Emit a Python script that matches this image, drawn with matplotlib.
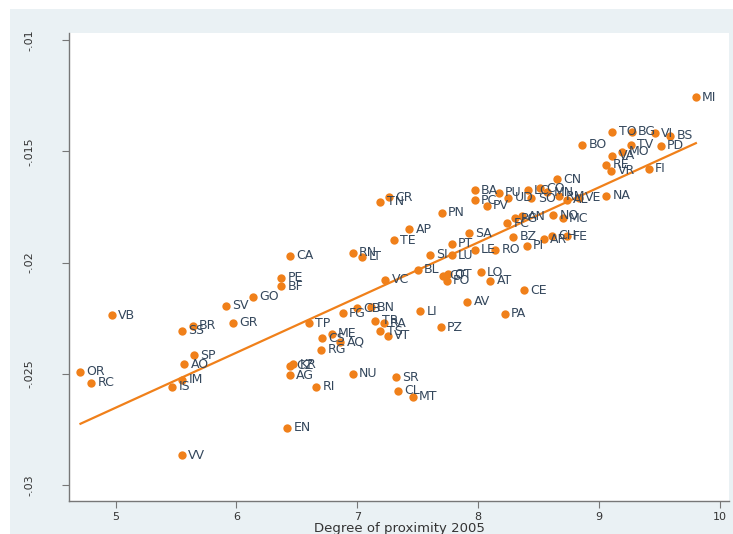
import numpy as np
import matplotlib.pyplot as plt
from matplotlib.patches import Rectangle

# province codes, degree of proximity (2005) and growth measure
provinces = ['MI', 'TO', 'BG', 'VI', 'BS', 'BO', 'TV', 'PD', 'MO', 'VA',
             'RE', 'VR', 'FI', 'CN', 'BA', 'PC', 'PV', 'PU', 'UD', 'LC',
             'SO', 'CO', 'MN', 'RM', 'AL', 'VE', 'NA', 'FC', 'PG', 'AN',
             'NO', 'MC', 'BZ', 'AR', 'CH', 'FE', 'PI', 'RO', 'LE', 'SA',
             'PT', 'SI', 'LU', 'BL', 'VC', 'CT', 'OT', 'PO', 'LO', 'AT',
             'CE', 'AV', 'PA', 'PZ', 'LI', 'PN', 'AP', 'TE', 'TN', 'CR',
             'RN', 'LT', 'CA', 'PE', 'BF', 'GO', 'SV', 'GR', 'BR', 'SS',
             'VB', 'SP', 'AO', 'OR', 'RC', 'IM', 'IS', 'VV', 'EN', 'TP',
             'FG', 'CB', 'BN', 'TR', 'RA', 'TS', 'VT', 'CS', 'ME', 'AQ',
             'RG', 'CZ', 'KR', 'AG', 'RI', 'NU', 'SR', 'CL', 'MT']

proximity = [9.80, 9.11, 9.27, 9.46, 9.59, 8.86, 9.26, 9.51, 9.19, 9.11,
             9.06, 9.10, 9.41, 8.65, 7.97, 7.97, 8.07, 8.17, 8.25, 8.41,
             8.44, 8.51, 8.57, 8.67, 8.73, 8.83, 9.06, 8.24, 8.30, 8.36,
             8.62, 8.70, 8.29, 8.54, 8.61, 8.73, 8.40, 8.14, 7.97, 7.92,
             7.78, 7.60, 7.78, 7.50, 7.23, 7.71, 7.75, 7.74, 8.02, 8.10,
             8.38, 7.91, 8.22, 7.69, 7.52, 7.70, 7.43, 7.30, 7.19, 7.26,
             6.96, 7.04, 6.44, 6.37, 6.37, 6.14, 5.91, 5.97, 5.64, 5.55,
             4.97, 5.65, 5.57, 4.71, 4.80, 5.55, 5.47, 5.55, 6.42, 6.60,
             6.88, 7.00, 7.11, 7.15, 7.22, 7.19, 7.25, 6.71, 6.79, 6.86,
             6.70, 6.44, 6.47, 6.44, 6.66, 6.96, 7.32, 7.34, 7.46]

growth = [-0.01257, -0.01412, -0.01413, -0.01418, -0.01430, -0.01470, -0.01470, -0.01474, -0.01502, -0.01519,
          -0.01560, -0.01587, -0.01579, -0.01626, -0.01676, -0.01721, -0.01745, -0.01687, -0.01709, -0.01676,
          -0.01712, -0.01667, -0.01685, -0.01703, -0.01718, -0.01709, -0.01700, -0.01823, -0.01800, -0.01791,
          -0.01788, -0.01800, -0.01885, -0.01896, -0.01879, -0.01881, -0.01925, -0.01943, -0.01943, -0.01868,
          -0.01916, -0.01964, -0.01968, -0.02033, -0.02077, -0.02060, -0.02052, -0.02082, -0.02043, -0.02081,
          -0.02125, -0.02176, -0.02231, -0.02291, -0.02220, -0.01775, -0.01851, -0.01900, -0.01727, -0.01707,
          -0.01957, -0.01973, -0.01970, -0.02068, -0.02106, -0.02153, -0.02195, -0.02270, -0.02285, -0.02306,
          -0.02236, -0.02416, -0.02458, -0.02491, -0.02541, -0.02528, -0.02559, -0.02866, -0.02742, -0.02273,
          -0.02228, -0.02206, -0.02201, -0.02261, -0.02273, -0.02308, -0.02330, -0.02341, -0.02319, -0.02356,
          -0.02391, -0.02464, -0.02458, -0.02506, -0.02559, -0.02499, -0.02515, -0.02577, -0.02604]

xticks = [5, 6, 7, 8, 9, 10]
yticks = [-0.03, -0.025, -0.02, -0.015, -0.01]
ytick_labels = ['-.03', '-.025', '-.02', '-.015', '-.01']

orange = '#f0801a'
navy = '#34475c'

fig = plt.figure(figsize=(7.33, 5.34), dpi=100)
fig.patch.set_facecolor('white')
# light graph region behind the plot area
region = Rectangle((10 / 733, 0), 1, 1 - 9 / 534, transform=fig.transFigure,
                   facecolor='#eaf1f4', edgecolor='none', zorder=-10)
fig.add_artist(region)

ax = fig.add_axes([69 / 733, 1 - 501 / 534, 660 / 733, 468 / 534])
ax.set_zorder(1)
ax.set_facecolor('white')

x = np.array(proximity)
y = np.array(growth)
ax.scatter(x, y, s=36, color=orange, linewidths=0, zorder=3)
for name, px, py in zip(provinces, x, y):
    ax.annotate(name, (px, py), xytext=(4.5, 0), textcoords='offset points',
                va='center', ha='left', fontsize=9, color=navy, zorder=4)

# linear fit over the observed range
slope, intercept = np.polyfit(x, y, 1)
xs = np.array([x.min(), x.max()])
ax.plot(xs, intercept + slope * xs, color=orange, lw=1.6, zorder=2)

ax.set_xlim(4.615, 10.074)
ax.set_ylim(-0.03072, -0.00968)
ax.set_xticks(xticks)
ax.set_xticklabels([str(t) for t in xticks], fontsize=8, color='#333333')
ax.set_yticks(yticks)
ax.set_yticklabels(ytick_labels, rotation=90, va='center', fontsize=8, color='#333333')
ax.tick_params(length=5, color='#777777')
ax.tick_params(axis='x', pad=3)
ax.tick_params(axis='y', pad=20)
ax.set_xlabel('Degree of proximity 2005', fontsize=9.5, color='#333333', labelpad=0)

for side in ['top', 'right']:
    ax.spines[side].set_visible(False)
for side in ['left', 'bottom']:
    ax.spines[side].set_color('#777777')
    ax.spines[side].set_linewidth(1.0)

fig.savefig('out.png', dpi=100)
